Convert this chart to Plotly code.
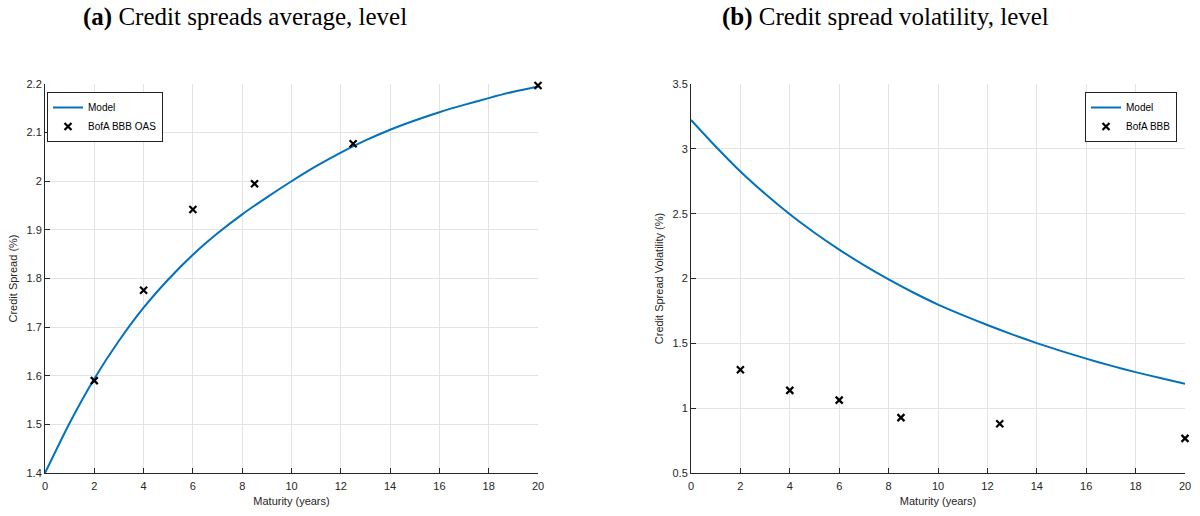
import plotly.graph_objects as go

# ---- data ----
model_maturity = [0, 1, 2, 3, 4, 5, 6, 7, 8, 9, 10, 11, 12, 13, 14, 15, 16, 17, 18, 19, 20]
model_spread = [1.400, 1.503, 1.594, 1.672, 1.740, 1.798, 1.849, 1.893, 1.932, 1.967, 2.000,
                2.031, 2.059, 2.084, 2.106, 2.125, 2.142, 2.157, 2.171, 2.184, 2.195]
model_vol = [3.223, 3.018, 2.825, 2.653, 2.495, 2.353, 2.223, 2.103, 1.993, 1.892, 1.799,
             1.718, 1.641, 1.569, 1.502, 1.440, 1.382, 1.328, 1.278, 1.232, 1.189]

data_maturity = [2, 4, 6, 8.5, 12.5, 20]
bofa_oas = [1.590, 1.776, 1.942, 1.995, 2.077, 2.197]
bofa_vol = [1.297, 1.137, 1.062, 0.927, 0.880, 0.767]

x_ticks = [0, 2, 4, 6, 8, 10, 12, 14, 16, 18, 20]
y_ticks_a = [1.4, 1.5, 1.6, 1.7, 1.8, 1.9, 2.0, 2.1, 2.2]
y_ticks_b = [0.5, 1, 1.5, 2, 2.5, 3, 3.5]

BLUE = "#0072BD"
AX = "#262626"
GRID = "#e3e3e3"
FONT = "Liberation Sans, Arial, sans-serif"
SERIF = "Liberation Serif, Times New Roman, serif"

W, H = 1200, 516


def px(x):
    return x / W


def py(y):
    return 1 - y / H


fig = go.Figure()

fig.add_trace(go.Scatter(x=model_maturity, y=model_spread, mode="lines", name="Model",
                         line=dict(color=BLUE, width=2, shape="spline", smoothing=0.6),
                         xaxis="x", yaxis="y", legend="legend"))
fig.add_trace(go.Scatter(x=data_maturity, y=bofa_oas, mode="markers", name="BofA BBB OAS",
                         marker=dict(symbol="x-thin", size=7, color="black",
                                     line=dict(color="black", width=2.2)),
                         xaxis="x", yaxis="y", legend="legend", cliponaxis=False))
fig.add_trace(go.Scatter(x=model_maturity, y=model_vol, mode="lines", name="Model",
                         line=dict(color=BLUE, width=2, shape="spline", smoothing=0.6),
                         xaxis="x2", yaxis="y2", legend="legend2"))
fig.add_trace(go.Scatter(x=data_maturity, y=bofa_vol, mode="markers", name="BofA BBB",
                         marker=dict(symbol="x-thin", size=7, color="black",
                                     line=dict(color="black", width=2.2)),
                         xaxis="x2", yaxis="y2", legend="legend2", cliponaxis=False))


def xaxis(domain, anchor):
    return dict(domain=domain, anchor=anchor, range=[0, 20], tickvals=x_ticks,
                showgrid=True, gridcolor=GRID, gridwidth=1, zeroline=False,
                showline=True, linecolor=AX, linewidth=1, ticks="inside", ticklen=5,
                tickcolor=AX, tickfont=dict(family=FONT, size=11, color=AX),
                ticklabelstandoff=3,
                title=dict(text="Maturity (years)", font=dict(family=FONT, size=11, color=AX),
                           standoff=6),
                automargin=False, mirror=False)


def yaxis(domain, anchor, rng, ticks, title):
    return dict(domain=domain, anchor=anchor, range=rng, tickvals=ticks,
                showgrid=True, gridcolor=GRID, gridwidth=1, zeroline=False,
                showline=True, linecolor=AX, linewidth=1, ticks="inside", ticklen=5,
                tickcolor=AX, tickfont=dict(family=FONT, size=11, color=AX),
                title=dict(text=title, font=dict(family=FONT, size=11, color=AX), standoff=6),
                automargin=False, mirror=False)


ydom = [py(473), py(84)]

fig.update_layout(
    width=W, height=H,
    margin=dict(l=0, r=0, t=0, b=0, autoexpand=False),
    paper_bgcolor="white", plot_bgcolor="white",
    xaxis=xaxis([px(45), px(538)], "y"),
    yaxis=yaxis(ydom, "x", [1.4, 2.2], y_ticks_a, "Credit Spread (%)"),
    xaxis2=xaxis([px(691), px(1185)], "y2"),
    yaxis2=yaxis(ydom, "x2", [0.5, 3.5], y_ticks_b, "Credit Spread Volatility (%)"),
    legend=dict(x=px(47), y=py(92), xanchor="left", yanchor="top",
                bgcolor="white", bordercolor="#222222", borderwidth=1,
                font=dict(family=FONT, size=10, color="black"), itemwidth=30,
                tracegroupgap=0),
    legend2=dict(x=px(1177), y=py(92), xanchor="right", yanchor="top",
                 bgcolor="white", bordercolor="#222222", borderwidth=1,
                 font=dict(family=FONT, size=10, color="black"), itemwidth=30,
                 tracegroupgap=0),
    showlegend=True,
    annotations=[
        dict(text="<b>(a)</b> Credit spreads average, level", x=px(245), y=py(17),
             xref="paper", yref="paper", xanchor="center", yanchor="middle", showarrow=False,
             font=dict(family=SERIF, size=25, color="black")),
        dict(text="<b>(b)</b> Credit spread volatility, level", x=px(885), y=py(17),
             xref="paper", yref="paper", xanchor="center", yanchor="middle", showarrow=False,
             font=dict(family=SERIF, size=25, color="black")),
    ],
)

fig.write_html(
    "out.html",
    config={"displayModeBar": False},
    post_script="document.body.style.margin='0px';document.body.style.overflow='hidden';",
)
